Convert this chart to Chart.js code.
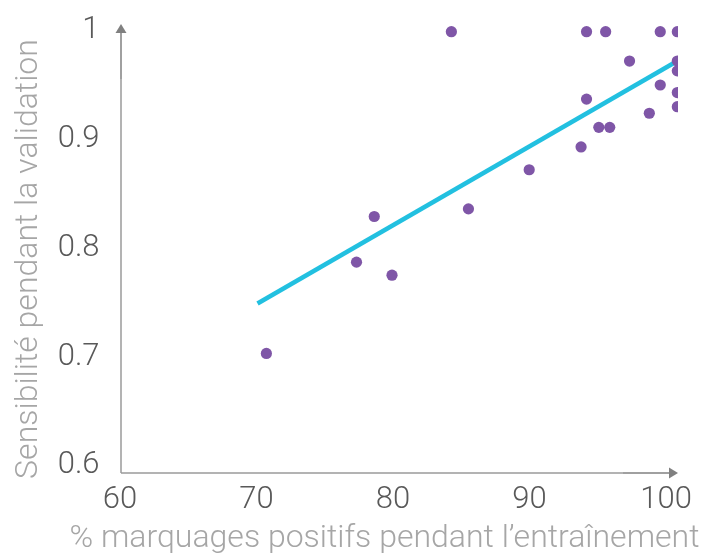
<!DOCTYPE html>
<html>
<head>
<meta charset="utf-8">
<script src="https://cdn.jsdelivr.net/npm/chart.js@4.4.1/dist/chart.umd.min.js"></script>
<style>
  html, body { margin: 0; padding: 0; background: #fff; }
  #wrap { width: 703px; height: 554px; }
</style>
</head>
<body>
<div id="wrap"><canvas id="chart" width="703" height="554"></canvas></div>
<script>
// === DATA ===
const xTicks = [60, 70, 80, 90, 100];
const yTicks = [0.6, 0.7, 0.8, 0.9, 1];

// % positive marks during training
const trainPct = [84.2, 94.1, 95.5, 99.5, 100.75, 97.25, 100.75, 100.75, 99.5, 100.75, 94.1,
                  100.75, 98.7, 95.0, 95.8, 93.7, 89.9, 85.45, 78.55, 77.25, 79.85, 70.65];
// sensitivity during validation
const validSens = [1.0, 1.0, 1.0, 1.0, 1.0, 0.973, 0.973, 0.964, 0.951, 0.944, 0.938,
                   0.931, 0.925, 0.912, 0.912, 0.894, 0.873, 0.837, 0.830, 0.788, 0.776, 0.704];

// trend line
const trendX = [70, 100.75];
const trendY = [0.750, 0.973];

const xTitle = "% marquages positifs pendant l’entraînement";
const yTitle = "Sensibilité pendant la validation";

// === STYLE ===
const FONT = "Roboto, 'Noto Sans', sans-serif";
const tickColor = "#595959";
const titleColor = "#a6a6a6";

// === AXES WITH ARROWS + TITLES ===
const axisPlugin = {
    id: "axisArrows",
    beforeDatasetsDraw(chart) {
        const { ctx, chartArea: a } = chart;
        ctx.save();
        ctx.lineWidth = 1.5;
        // x axis
        ctx.strokeStyle = "#9a9a9a";
        ctx.beginPath();
        ctx.moveTo(a.left, a.bottom);
        ctx.lineTo(a.right - 55, a.bottom);
        ctx.stroke();
        ctx.strokeStyle = "#808080";
        ctx.beginPath();
        ctx.moveTo(a.right - 55, a.bottom);
        ctx.lineTo(a.right - 8, a.bottom);
        ctx.stroke();
        ctx.fillStyle = "#808080";
        ctx.beginPath();
        ctx.moveTo(a.right, a.bottom);
        ctx.lineTo(a.right - 9, a.bottom - 5.5);
        ctx.lineTo(a.right - 9, a.bottom + 5.5);
        ctx.closePath();
        ctx.fill();
        // y axis
        ctx.strokeStyle = "#9a9a9a";
        ctx.beginPath();
        ctx.moveTo(a.left, a.bottom);
        ctx.lineTo(a.left, a.top + 55);
        ctx.stroke();
        ctx.strokeStyle = "#808080";
        ctx.beginPath();
        ctx.moveTo(a.left, a.top + 55);
        ctx.lineTo(a.left, a.top + 8);
        ctx.stroke();
        ctx.beginPath();
        ctx.moveTo(a.left, a.top);
        ctx.lineTo(a.left - 5.5, a.top + 9);
        ctx.lineTo(a.left + 5.5, a.top + 9);
        ctx.closePath();
        ctx.fill();
        ctx.restore();
    },
    afterDraw(chart) {
        const { ctx } = chart;
        ctx.save();
        ctx.fillStyle = titleColor;
        ctx.font = "300 32px " + FONT;
        ctx.textAlign = "center";
        ctx.textBaseline = "alphabetic";
        ctx.fillText(xTitle, 384.5, 547);
        ctx.translate(37, 259);
        ctx.rotate(-Math.PI / 2);
        ctx.fillText(yTitle, 0, 0);
        ctx.restore();
    }
};

// === CHART ===
const ctx = document.getElementById("chart").getContext("2d");

new Chart(ctx, {
    type: "scatter",
    data: {
        datasets: [
            {
                label: "Points",
                data: trainPct.map((x, i) => ({ x: x, y: validSens[i] })),
                backgroundColor: "#7f56a7",
                borderWidth: 0,
                pointRadius: 5.6,
                pointHoverRadius: 5.6,
                order: 0
            },
            {
                type: "line",
                label: "Tendance",
                data: trendX.map((x, i) => ({ x: x, y: trendY[i] })),
                borderColor: "#22c0e0",
                borderWidth: 4.5,
                pointRadius: 0,
                fill: false,
                order: 1
            }
        ]
    },
    options: {
        responsive: false,
        animation: false,
        events: [],
        layout: { padding: { top: 24, right: 25, left: 0, bottom: 0 } },
        plugins: {
            legend: { display: false },
            tooltip: { enabled: false }
        },
        scales: {
            x: {
                type: "linear",
                min: 60,
                max: 100.8,
                grid: { display: false, drawTicks: false },
                border: { display: false },
                afterBuildTicks: s => { s.ticks = xTicks.map(v => ({ value: v })); },
                afterFit: s => { s.height = 81; s.paddingLeft = 0; s.paddingRight = 0; },
                ticks: {
                    color: tickColor,
                    font: { family: FONT, size: 31, weight: "300" },
                    padding: 9,
                    labelOffset: -1,
                    maxRotation: 0,
                    callback: v => String(v)
                }
            },
            y: {
                type: "linear",
                min: 0.594,
                max: 1.0071,
                grid: { display: false, drawTicks: false },
                border: { display: false },
                afterBuildTicks: s => { s.ticks = yTicks.map(v => ({ value: v })); },
                afterFit: s => { s.width = 121; s.paddingTop = 0; s.paddingBottom = 0; },
                ticks: {
                    color: tickColor,
                    font: { family: FONT, size: 31, weight: "300" },
                    padding: 21.5,
                    labelOffset: -1,
                    callback: v => String(Math.round(v * 10) / 10)
                }
            }
        }
    },
    plugins: [axisPlugin]
});
</script>
</body>
</html>
